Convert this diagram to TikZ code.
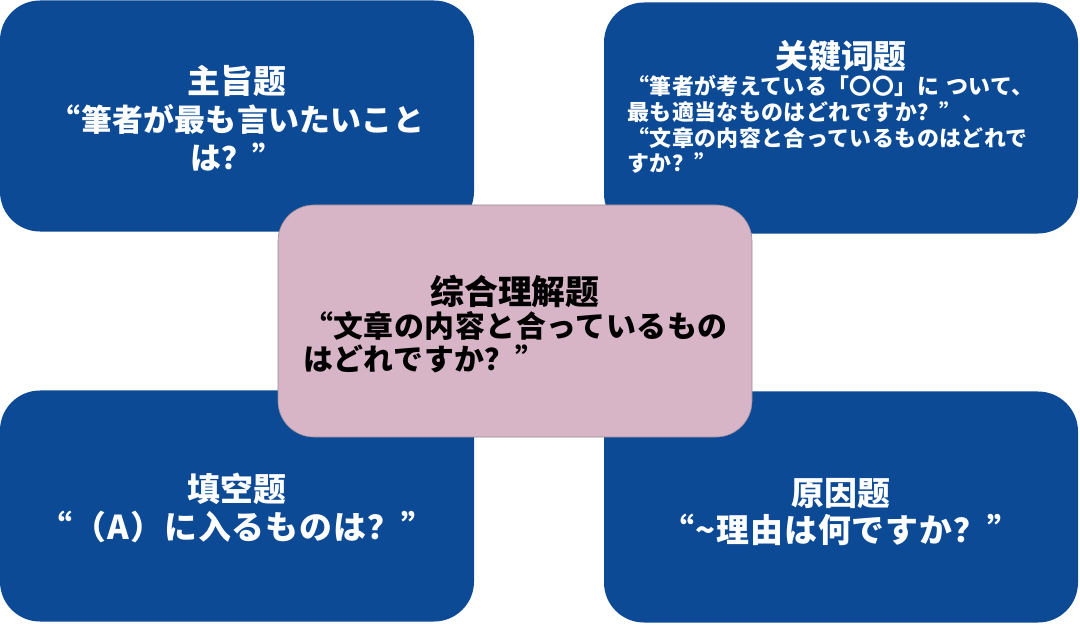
\documentclass[tikz,border=0pt]{standalone}
\usepackage{fontspec}
\setmainfont{Noto Sans CJK SC}
\usetikzlibrary{positioning}

\definecolor{qblue}{RGB}{12,74,150}
\definecolor{qpink}{RGB}{215,181,199}
\definecolor{qedge}{RGB}{150,140,150}

\newcommand{\qspaced}[1]{\addfontfeatures{LetterSpace=#1}}

\begin{document}
\begin{tikzpicture}[x=1bp,y=-1bp,
  qbox/.style={fill=qblue,rounded corners=40bp,minimum width=474bp,minimum height=231bp,inner sep=0pt},
  mainbox/.style={fill=qpink,draw=qedge,line width=0.6bp,rounded corners=36bp,minimum width=474bp,
    minimum height=232bp,inner sep=0pt},
  qtext/.style={inner sep=0pt,text=white,font=\bfseries\fontsize{31}{38}\selectfont}]

\useasboundingbox[fill=white](0,0) rectangle (1080,626);

% four question types
\node[qbox](main idea) at (237,116){};
\node[qbox](keyword) at (841,118){};
\node[qbox](blank) at (237,506){};
\node[qbox](reason) at (841,507){};

\node[qtext,align=center](main idea text) at (237,118)
  {{\fontsize{33}{38}\selectfont 主旨题}\\\qspaced{1}“筆者が最も言いたいこと\\は？”};
\node[qtext,text width=427bp,align=left,font=\bfseries\fontsize{22}{26}\selectfont](keyword text) at (841,107)
  {\makebox[\linewidth]{\fontsize{33}{37}\selectfont 关键词题}\\
   \qspaced{2}“筆者が考えている「〇〇」に ついて、\\
   最も適当なものはどれですか？”、\\
   “文章の内容と合っているものはどれで\\
   すか？”};
\node[qtext,align=center](blank text) at (237,508)
  {{\fontsize{33}{39}\selectfont 填空题}\\\fontsize{33}{39}\selectfont\qspaced{3}“（A）に入るものは？”};
\node[qtext,align=center](reason text) at (841,512)
  {{\fontsize{33}{39}\selectfont 原因题}\\\fontsize{33}{39}\selectfont\qspaced{3}“\textasciitilde 理由は何ですか？”};

% overall comprehension on top
\node[mainbox](overall) at (515,321){};
\node[qtext,text=black,text width=424bp,align=left,font=\bfseries\fontsize{30}{33}\selectfont](overall text) at (515,324)
  {\makebox[\linewidth]{\fontsize{34}{38}\selectfont 综合理解题}\\
   \qspaced{2}“文章の内容と合っているもの\\
   はどれですか？”};

\end{tikzpicture}
\end{document}
